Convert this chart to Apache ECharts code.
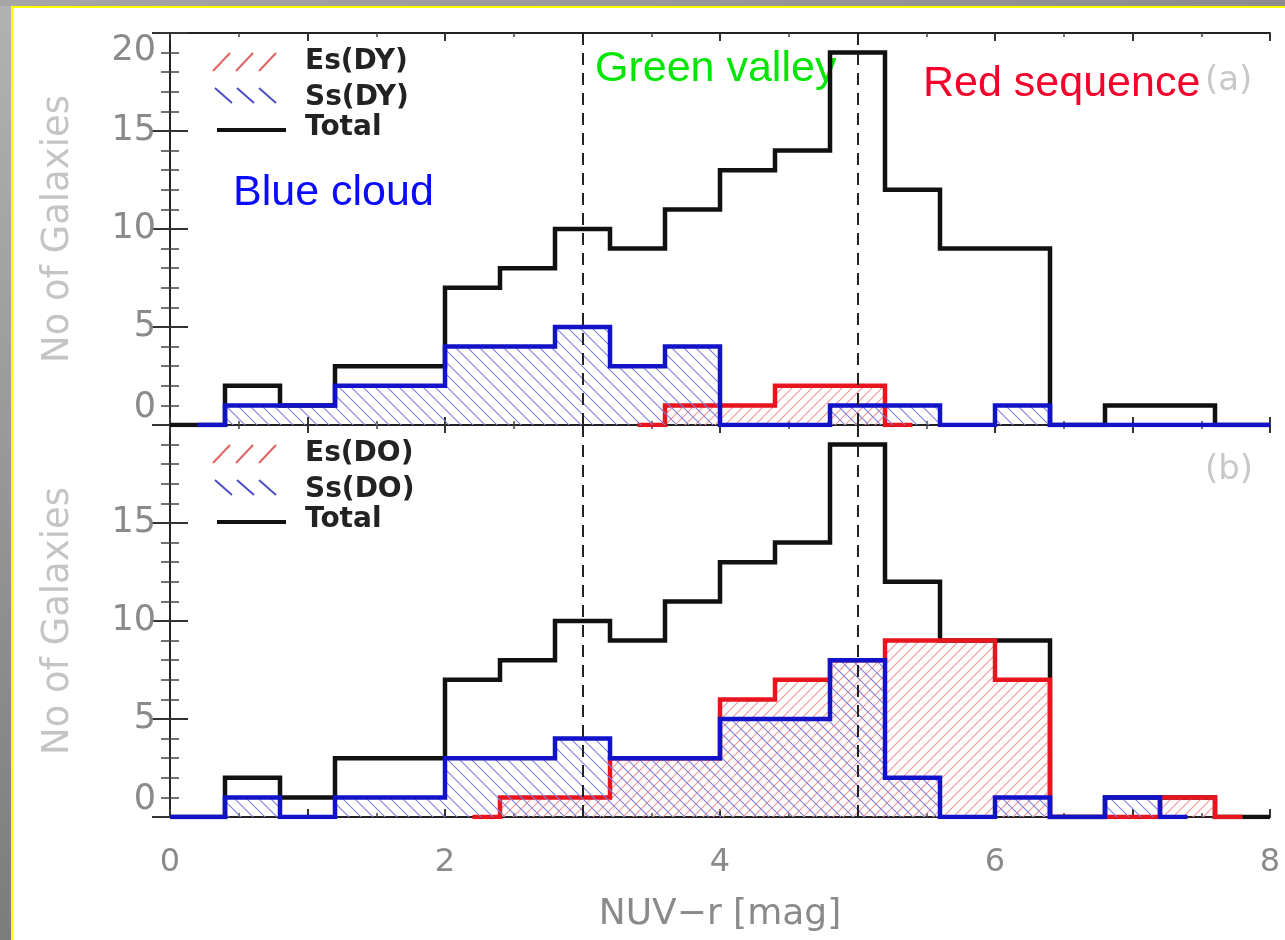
<!DOCTYPE html>
<html>
<head>
<meta charset="utf-8">
<title>NUV-r histograms</title>
<script src="https://cdn.jsdelivr.net/npm/echarts@6/dist/echarts.min.js"></script>
<style>
  html, body { margin: 0; padding: 0; }
  body { width: 1285px; height: 940px; position: relative; overflow: hidden; background: #fff; }
  #stripL { position: absolute; left: 0; top: 0; width: 11px; height: 940px; background: linear-gradient(#b2b2b2, #7c7c7c); }
  #stripT { position: absolute; left: 0; top: 0; width: 1285px; height: 6px; background: linear-gradient(90deg, #a6a6a6, #8c8c8c); }
  #edgeL { position: absolute; left: 11px; top: 6px; width: 2px; height: 934px; background: #ffff00; }
  #edgeT { position: absolute; left: 11px; top: 6px; width: 1274px; height: 2px; background: #ffff00; }
  #chart { position: absolute; left: 0; top: 0; width: 1285px; height: 940px; }
</style>
</head>
<body>
<div id="stripL"></div><div id="stripT"></div><div id="edgeL"></div><div id="edgeT"></div>
<div id="chart"></div>
<script>
// bin edges of NUV-r (mag)
var edges = [0, 0.4, 0.8, 1.2, 1.6, 2.0, 2.4, 2.8, 3.2, 3.6, 4.0, 4.4, 4.8, 5.2, 5.6, 6.0, 6.4, 6.8, 7.2, 7.6, 8.0];

// panel (a): DY
var totalDY = [0, 2, 1, 3, 3, 7, 8, 10, 9, 11, 13, 14, 19, 12, 9, 9, 0, 1, 1, 0];
var esDY    = [0, 0, 0, 0, 0, 0, 0, 0, 0, 1, 1, 2, 2, 0, 0, 0, 0, 0, 0, 0];
var ssDY    = [0, 1, 1, 2, 2, 4, 4, 5, 3, 4, 0, 0, 1, 1, 0, 1, 0, 0, 0, 0];

// panel (b): DO
var totalDO = [0, 2, 1, 3, 3, 7, 8, 10, 9, 11, 13, 14, 19, 12, 9, 9, 0, 1, 1, 0];
var esDO    = [0, 0, 0, 0, 0, 0, 1, 1, 3, 3, 6, 7, 8, 9, 9, 7, 0, 0, 1, 0];
var ssDO    = [0, 1, 0, 1, 1, 3, 3, 4, 3, 3, 5, 5, 8, 2, 0, 1, 0, 1, 0, 0];

// x range over which each histogram line is drawn
var extTotal = [0, 8];
var extEsDY = [3.4, 5.4], extSsDY = [0.2, 8];
var extEsDO = [2.2, 7.8], extSsDO = [0, 7.4];

var colTotal = '#111111', colEs = '#e8141e', colSs = '#1212c8';

function hatch(color, size, dir) {
  var c = document.createElement('canvas');
  c.width = size; c.height = size;
  var g = c.getContext('2d');
  g.strokeStyle = color;
  g.lineWidth = 1.1;
  g.beginPath();
  if (dir > 0) {
    g.moveTo(0, size); g.lineTo(size, 0);
    g.moveTo(-size / 2, size / 2); g.lineTo(size / 2, -size / 2);
    g.moveTo(size / 2, size * 1.5); g.lineTo(size * 1.5, size / 2);
  } else {
    g.moveTo(0, 0); g.lineTo(size, size);
    g.moveTo(-size / 2, size / 2); g.lineTo(size / 2, size * 1.5);
    g.moveTo(size / 2, -size / 2); g.lineTo(size * 1.5, size / 2);
  }
  g.stroke();
  return c;
}
var redHatch = hatch('#f29494', 10, 1);
var blueHatch = hatch('#8080de', 12, -1);

function steps(vals, from, to) {
  var pts = [];
  for (var i = 0; i < vals.length; i++) {
    var a = Math.max(edges[i], from), b = Math.min(edges[i + 1], to);
    if (a < b) pts.push([a, vals[i]]);
  }
  pts.push([to, pts[pts.length - 1][1]]);
  return pts;
}

function hist(name, vals, ext, color, z, fill, gi) {
  var s = {
    name: name, type: 'line', step: 'end',
    xAxisIndex: gi * 2, yAxisIndex: gi * 2,
    data: steps(vals, ext[0], ext[1]),
    showSymbol: false, symbol: 'none', z: z, silent: true,
    lineStyle: { color: color, width: 4.5, join: 'miter' }
  };
  if (fill) s.areaStyle = { color: { image: fill, repeat: 'repeat' }, opacity: 1 };
  return s;
}

var dashes = {
  silent: true, symbol: ['none', 'none'],
  label: { show: false },
  lineStyle: { type: [12, 8], color: '#222', width: 2 },
  data: [{ xAxis: 3 }, { xAxis: 5 }]
};

var tickFont = 'DejaVu Sans';
function xAx(gi, pos, labels) {
  return {
    type: 'value', gridIndex: gi, position: pos, min: 0, max: 8, interval: 1,
    axisLine: { show: true, onZero: false, lineStyle: { color: '#222', width: 2 } },
    axisTick: { show: true, inside: true, length: 8, lineStyle: { color: '#333', width: 2 } },
    minorTick: { show: true, splitNumber: 2, length: 4, lineStyle: { color: '#444', width: 1.5 } },
    splitLine: { show: false },
    axisLabel: {
      show: labels, fontFamily: tickFont, fontSize: 32, color: '#8a8a8a', margin: 30,
      formatter: function (v) { return v % 2 === 0 ? String(v) : ''; }
    },
    name: labels ? 'NUV\u2212r [mag]' : '',
    nameLocation: 'middle', nameGap: 80,
    nameTextStyle: { fontFamily: tickFont, fontSize: 36, color: '#8a8a8a' }
  };
}
function yAx(gi, pos, labels, showMax) {
  return {
    type: 'value', gridIndex: gi, position: pos, min: 0, max: 20, interval: 5,
    axisLine: { show: true, lineStyle: { color: '#222', width: 2 } },
    axisTick: { show: true, inside: true, length: 18, lineStyle: { color: '#333', width: 2 } },
    minorTick: { show: true, splitNumber: 5, length: 9, lineStyle: { color: '#444', width: 1.5 } },
    splitLine: { show: false },
    axisLabel: {
      show: labels, fontFamily: tickFont, fontSize: 35, color: '#8a8a8a', margin: 14,
      showMaxLabel: showMax, verticalAlignMinLabel: 'bottom', verticalAlignMaxLabel: 'top'
    },
    name: labels ? 'No of Galaxies' : '',
    nameLocation: 'middle', nameGap: 93, nameRotate: 90,
    nameTextStyle: { fontFamily: tickFont, fontSize: 37, color: '#c4c4c4' }
  };
}

function legend(baseY, esName, ssName) {
  var g = [];
  for (var k = 0; k < 3; k++) {
    g.push({ type: 'line', shape: { x1: 213 + k * 23, y1: baseY + 38, x2: 230 + k * 23, y2: baseY + 20 },
             style: { stroke: '#e06464', lineWidth: 2 } });
    g.push({ type: 'line', shape: { x1: 215 + k * 22, y1: baseY + 55, x2: 232 + k * 22, y2: baseY + 70 },
             style: { stroke: '#4e4ec4', lineWidth: 2 } });
  }
  g.push({ type: 'line', shape: { x1: 217, y1: baseY + 97, x2: 286, y2: baseY + 97 },
           style: { stroke: '#111', lineWidth: 4 } });
  var t = [[esName, 29], [ssName, 65], ['Total', 95]];
  t.forEach(function (r) {
    g.push({ type: 'text', x: 305, y: baseY + r[1],
             style: { text: r[0], font: 'bold 28px "DejaVu Sans"', fill: '#222', verticalAlign: 'middle' } });
  });
  return g;
}

var graphics = legend(33, 'Es(DY)', 'Ss(DY)').concat(legend(425, 'Es(DO)', 'Ss(DO)'));
graphics.push(
  { type: 'text', x: 1205, y: 81, style: { text: '(a)', font: '34px "DejaVu Sans"', fill: '#c8c8c8', verticalAlign: 'middle' } },
  { type: 'text', x: 1205, y: 470, style: { text: '(b)', font: '34px "DejaVu Sans"', fill: '#c8c8c8', verticalAlign: 'middle' } },
  { type: 'text', x: 233, y: 193, style: { text: 'Blue cloud', font: '43px "Liberation Sans"', fill: '#0a0aff', verticalAlign: 'middle' } },
  { type: 'text', x: 595, y: 69, style: { text: 'Green valley', font: '43px "Liberation Sans"', fill: '#00e600', verticalAlign: 'middle' } },
  { type: 'text', x: 923, y: 84, style: { text: 'Red sequence', font: '43px "Liberation Sans"', fill: '#f5002a', verticalAlign: 'middle' } }
);

var topTotal = hist('Total', totalDY, extTotal, colTotal, 2, null, 0);
topTotal.markLine = dashes;
var botTotal = hist('Total', totalDO, extTotal, colTotal, 2, null, 1);
botTotal.markLine = dashes;

var myChart = echarts.init(document.getElementById('chart'));
var option = {
  animation: false,
  grid: [
    { left: 170, right: 15, top: 33, height: 392 },
    { left: 170, right: 15, top: 425, height: 392 }
  ],
  xAxis: [xAx(0, 'bottom', false), xAx(0, 'top', false), xAx(1, 'bottom', true), xAx(1, 'top', false)],
  yAxis: [yAx(0, 'left', true, true), yAx(0, 'right', false, false), yAx(1, 'left', true, false), yAx(1, 'right', false, false)],
  series: [
    topTotal,
    hist('Es(DY)', esDY, extEsDY, colEs, 3, redHatch, 0),
    hist('Ss(DY)', ssDY, extSsDY, colSs, 4, blueHatch, 0),
    botTotal,
    hist('Es(DO)', esDO, extEsDO, colEs, 3, redHatch, 1),
    hist('Ss(DO)', ssDO, extSsDO, colSs, 4, blueHatch, 1)
  ],
  graphic: graphics
};
myChart.setOption(option);
</script>
</body>
</html>
